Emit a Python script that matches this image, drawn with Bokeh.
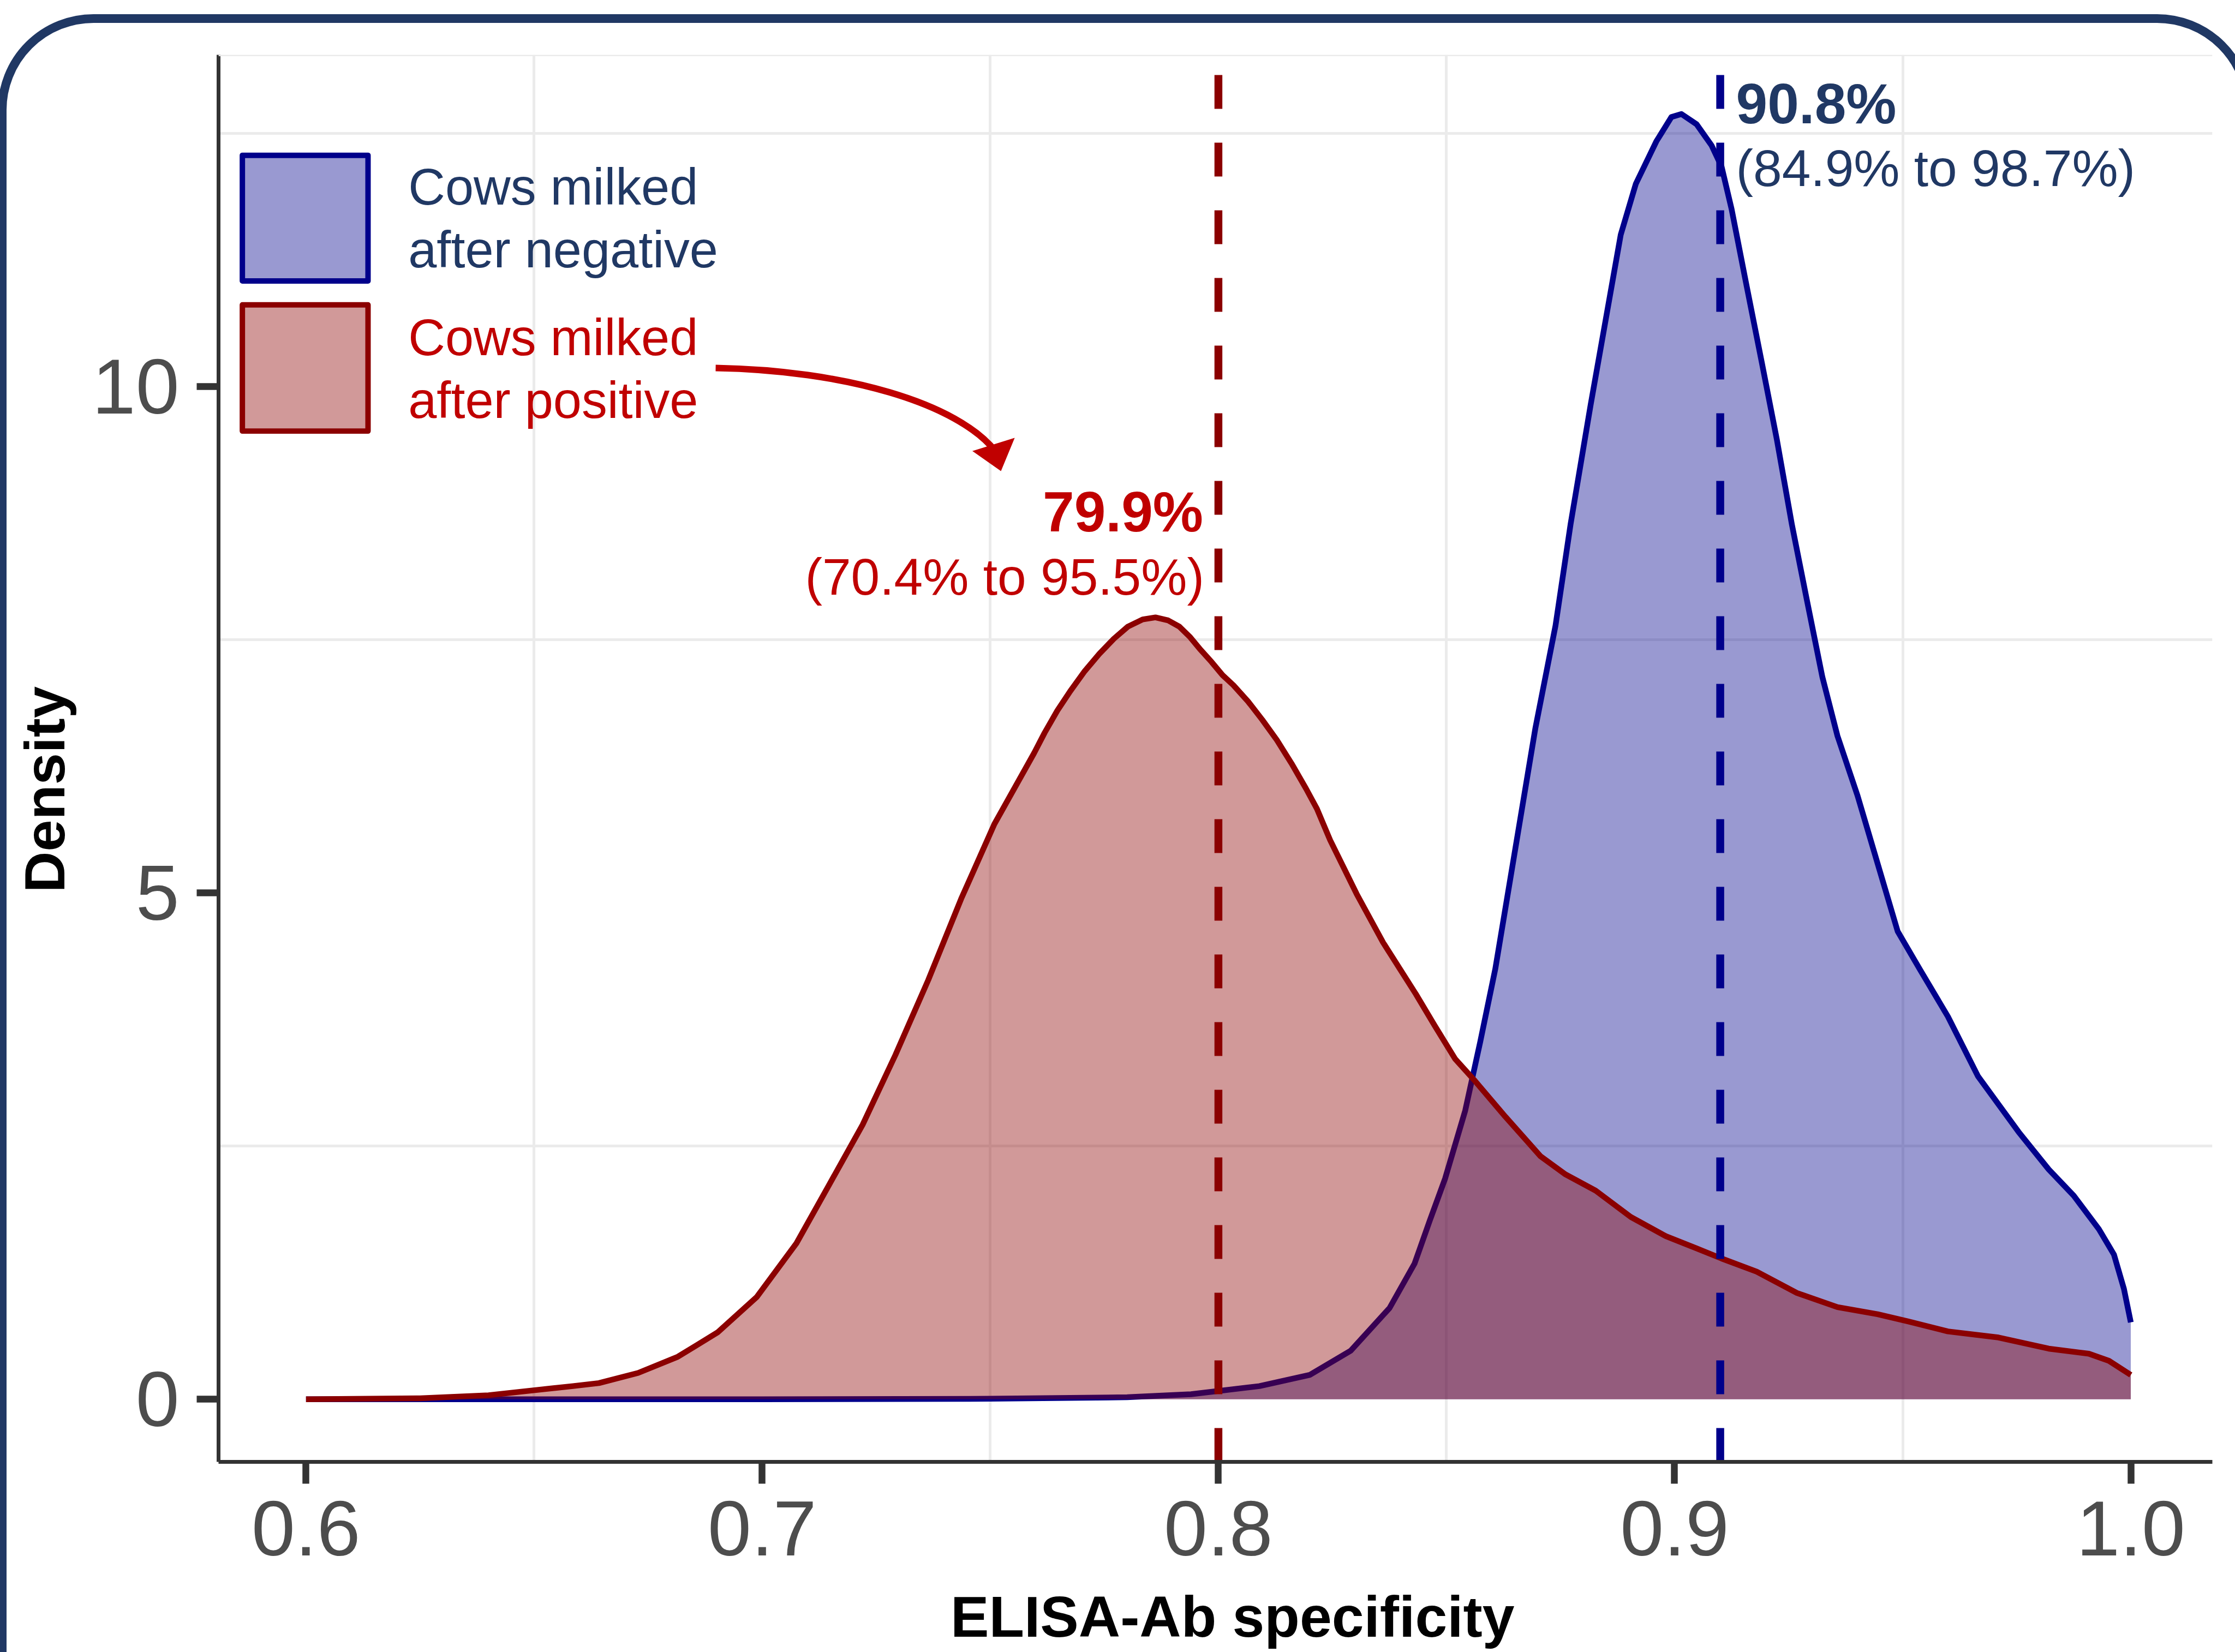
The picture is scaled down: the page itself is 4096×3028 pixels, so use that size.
import numpy as np
from bokeh.plotting import figure
from bokeh.models import Range1d, FixedTicker, Label, Span
from bokeh.embed import file_html
from bokeh.resources import INLINE

# ---------------- data ----------------
X_TICKS = [0.6, 0.7, 0.8, 0.9, 1.0]
X_TICK_LABELS = ["0.6", "0.7", "0.8", "0.9", "1.0"]
X_MINOR = [0.65, 0.75, 0.85, 0.95]
Y_TICKS = [0, 5, 10]
Y_TICK_LABELS = ["0", "5", "10"]
Y_MINOR = [2.5, 7.5, 12.5]

NEG_X = [0.600, 0.650, 0.700, 0.750, 0.780, 0.794, 0.809, 0.820, 0.829, 0.8375,
         0.843, 0.8463, 0.8497, 0.8541, 0.8574, 0.8607, 0.8651, 0.8695, 0.8739, 0.8772,
         0.8816, 0.8849, 0.8882, 0.8915, 0.8960, 0.8993, 0.9015, 0.9048, 0.9081, 0.9103,
         0.9125, 0.9158, 0.9191, 0.9224, 0.9257, 0.9290, 0.9324, 0.9357, 0.9401, 0.9445,
         0.9489, 0.9533, 0.9599, 0.9665, 0.9754, 0.9820, 0.9875, 0.9930, 0.9963, 0.9985,
         1.000]
NEG_Y = [0.0, 0.0, 0.0, 0.005, 0.02, 0.05, 0.13, 0.24, 0.48, 0.90,
         1.34, 1.76, 2.18, 2.85, 3.53, 4.25, 5.44, 6.63, 7.64, 8.64,
         9.82, 10.66, 11.50, 12.00, 12.42, 12.66, 12.69, 12.59, 12.38, 12.17,
         11.75, 10.99, 10.24, 9.48, 8.64, 7.89, 7.13, 6.55, 5.96, 5.29,
         4.62, 4.28, 3.78, 3.19, 2.64, 2.27, 2.01, 1.68, 1.43, 1.09,
         0.76]

POS_X = [0.600, 0.625, 0.640, 0.6471, 0.6585, 0.6642, 0.6728, 0.6815, 0.6902, 0.6988,
         0.7075, 0.7147, 0.7220, 0.7292, 0.7364, 0.7436, 0.7509, 0.7596, 0.7619, 0.7647,
         0.7675, 0.7707, 0.7739, 0.7771, 0.7802, 0.7834, 0.7862, 0.7890, 0.7914, 0.7937,
         0.7961, 0.7985, 0.8009, 0.8033, 0.8065, 0.8096, 0.8128, 0.8160, 0.8192, 0.8216,
         0.8245, 0.8303, 0.8361, 0.8433, 0.8474, 0.8519, 0.8563, 0.8629, 0.8706, 0.8761,
         0.8827, 0.8904, 0.8981, 0.9048, 0.9103, 0.9180, 0.9268, 0.9357, 0.9445, 0.9511,
         0.9599, 0.9710, 0.9820, 0.9908, 0.9952, 1.000]
POS_Y = [0.0, 0.01, 0.04, 0.075, 0.13, 0.16, 0.26, 0.42, 0.66, 1.01,
         1.54, 2.12, 2.71, 3.40, 4.14, 4.94, 5.68, 6.38, 6.58, 6.80,
         6.99, 7.19, 7.36, 7.51, 7.63, 7.70, 7.72, 7.69, 7.63, 7.53,
         7.40, 7.28, 7.15, 7.05, 6.89, 6.71, 6.51, 6.28, 6.03, 5.83,
         5.52, 4.99, 4.51, 4.00, 3.69, 3.36, 3.14, 2.79, 2.40, 2.22,
         2.06, 1.80, 1.61, 1.49, 1.39, 1.26, 1.05, 0.91, 0.84, 0.77,
         0.67, 0.61, 0.50, 0.45, 0.38, 0.24]

GROUPS = ["Cows milked\nafter negative", "Cows milked\nafter positive"]
MEDIANS = [0.91, 0.80]
MEDIAN_LABELS = ["90.8%", "79.9%"]
CI_LABELS = ["(84.9% to 98.7%)", "(70.4% to 95.5%)"]
X_TITLE = "ELISA-Ab specificity"
Y_TITLE = "Density"

# ---------------- styles / layout ----------------
S = 0.997          # scale vs reference
OFF = 0            # page offset of the canvas
W, H = 4096, 3028
ML, MR, MT, MB = 400, 42, 100, 349
BASE_SHIFT = 0.35  # em, label baseline correction

NAVY = "#203864"
REDTXT = "#C00000"
DBLUE = "#00008B"
DRED = "#8B0000"
FONT = "Liberation Sans"


def dx(X):  # reference pixel -> data x
    return 0.6 + (X - 562.0) / 8385.7


def dy(Y):  # reference pixel -> data y
    return (2572.0 - Y) / 186.2


def cv(v):  # reference pixel -> canvas pixel
    return S * v - OFF


X_START = dx((ML + OFF) / S)
X_END = dx((W - MR + OFF) / S)
Y_END = dy((MT + OFF) / S)
Y_START = dy((H - MB + OFF) / S)

p = figure(width=W, height=H, x_range=Range1d(X_START, X_END),
           y_range=Range1d(Y_START, Y_END), output_backend="svg",
           toolbar_location=None, min_border_left=ML, min_border_right=MR,
           min_border_top=MT, min_border_bottom=MB)
p.title.visible = False
p.outline_line_color = None
p.background_fill_color = "white"
p.border_fill_color = None

# rounded outer frame (drawn as the element's background)
bx, by = cv(4), cv(34)
bw, bh = cv(4133) - bx, cv(3400) - by
svg = (f"<svg xmlns='http://www.w3.org/2000/svg' width='{W}' height='{H}'>"
       f"<rect x='{bx:.1f}' y='{by:.1f}' width='{bw:.1f}' height='{bh:.1f}' "
       f"rx='{168 * S:.1f}' ry='{168 * S:.1f}' fill='none' "
       f"stroke='{NAVY.replace('#', '%23')}' stroke-width='{16 * S:.1f}'/></svg>")
p.styles = {
    "background-color": "white",
    "background-image": f'url("data:image/svg+xml;utf8,{svg}")',
    "background-repeat": "no-repeat",
    "background-size": f"{W}px {H}px",
}

for ax, ticks, labels, minor in ((p.xaxis, X_TICKS, X_TICK_LABELS, X_MINOR),
                                 (p.yaxis, Y_TICKS, Y_TICK_LABELS, Y_MINOR)):
    ax.ticker = FixedTicker(ticks=ticks, minor_ticks=minor)
    ax.major_label_overrides = dict(zip(ticks, labels))
    ax.axis_line_color = "#333333"
    ax.axis_line_width = 7 * S
    ax.major_tick_line_color = "#333333"
    ax.major_tick_line_width = 12.5 * S
    ax.major_tick_out = round(40 * S)
    ax.major_tick_in = 0
    ax.minor_tick_line_color = None
    ax.major_label_text_font = FONT
    ax.major_label_text_font_size = f"{144 * S:.1f}px"
    ax.major_label_text_color = "#4D4D4D"
p.xaxis.major_label_standoff = 32
p.yaxis.major_label_standoff = 32

for g in (p.xgrid, p.ygrid):
    g.grid_line_color = None
    g.minor_grid_line_color = "#EBEBEB"
    g.minor_grid_line_width = 5 * S

p.add_layout(Span(location=Y_END, dimension="width", line_color="#EBEBEB",
                  line_width=5 * S))

# densities
p.varea(x=NEG_X, y1=0, y2=NEG_Y, fill_color=DBLUE, fill_alpha=0.4)
p.line(NEG_X, NEG_Y, line_color=DBLUE, line_width=10.5 * S, line_join="round")
p.varea(x=POS_X, y1=0, y2=POS_Y, fill_color=DRED, fill_alpha=0.4)
p.line(POS_X, POS_Y, line_color=DRED, line_width=10.5 * S, line_join="round")

# medians (dashed)
p.segment(x0=MEDIANS, y0=[Y_START] * 2, x1=MEDIANS, y1=[Y_END] * 2,
          line_color=[DBLUE, DRED], line_width=14.5 * S, line_dash="62 62")


def lab(text, X, Y, color, size, bold=False, align="left", angle=0.0, side="center"):
    if angle == 0.0:
        Y = Y - BASE_SHIFT * size
    else:
        X = X - BASE_SHIFT * size
    p.add_layout(Label(x=dx(X), y=dy(Y), text=text, text_color=color,
                       text_font=FONT, text_font_size=f"{size * S:.1f}px",
                       text_font_style="bold" if bold else "normal",
                       text_align=align, text_baseline="alphabetic",
                       angle=angle), side)


def med_px(m):
    return 562.0 + (m - 0.6) * 8385.7


# median annotations
lab(MEDIAN_LABELS[0], med_px(MEDIANS[0]) + 29, 226, NAVY, 104, bold=True)
lab(CI_LABELS[0], med_px(MEDIANS[0]) + 29, 342, NAVY, 95)
lab(MEDIAN_LABELS[1], med_px(MEDIANS[1]) - 28, 977, REDTXT, 104, bold=True, align="right")
lab(CI_LABELS[1], med_px(MEDIANS[1]) - 26, 1093, REDTXT, 95, align="right")

# legend
LEG_BOX_Y = [(285, 516), (560, 792)]
LEG_TXT_Y = [(376, 491), (653, 768)]
for (top, bot), (b1, b2), fc, tc, name in zip(LEG_BOX_Y, LEG_TXT_Y, [DBLUE, DRED],
                                              [NAVY, REDTXT], GROUPS):
    p.quad(left=dx(445), right=dx(676), top=dy(top), bottom=dy(bot),
           fill_color=fc, fill_alpha=0.4, line_color=fc, line_width=10 * S,
           line_join="round")
    l1, l2 = name.split("\n")
    lab(l1, 750, b1, tc, 94)
    lab(l2, 750, b2, tc, 94)

# arrow from legend to red annotation
ARROW_PX = [(1315, 676), (1550, 680), (1760, 740), (1830, 830)]
ARROW_HEAD_PX = [(1789, 829), (1839, 864), (1863, 806)]
(a0, a1, a2, a3) = ARROW_PX
p.bezier(x0=dx(a0[0]), y0=dy(a0[1]), cx0=dx(a1[0]), cy0=dy(a1[1]),
         cx1=dx(a2[0]), cy1=dy(a2[1]), x1=dx(a3[0]), y1=dy(a3[1]),
         line_color=REDTXT, line_width=12 * S)
p.patch([dx(q[0]) for q in ARROW_HEAD_PX], [dy(q[1]) for q in ARROW_HEAD_PX],
        fill_color=REDTXT, line_color=REDTXT, line_width=2, line_join="miter")

# axis titles (in side panels so they are not clipped to the frame)
lab(X_TITLE, 2265, 3009, "black", 106, bold=True, align="center", side="below")
lab(Y_TITLE, 118, 1451, "black", 105, bold=True, align="center", angle=np.pi / 2,
    side="left")

open("out.html", "w").write(file_html(p, INLINE))
